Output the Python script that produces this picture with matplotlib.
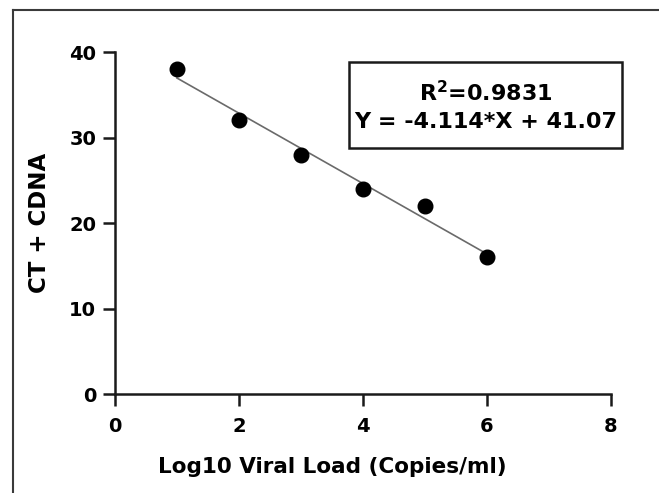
import matplotlib
matplotlib.use("Agg")
import matplotlib.pyplot as plt
from matplotlib.lines import Line2D
from matplotlib.patches import Rectangle

plt.rcParams['font.family'] = ['DejaVu Sans']
plt.rcParams['font.weight'] = 'bold'

log_load = [1, 2, 3, 4, 5, 6]
ct_values = [38, 32, 28, 24, 22, 16]
slope = -4.114
intercept = 41.07
r2 = 0.9831
x_ticks = [0, 2, 4, 6, 8]
y_ticks = [0, 10, 20, 30, 40]

fig = plt.figure(figsize=(6.59, 4.93), dpi=100)
ax = fig.add_axes([0.1745, 0.2008, 0.7525, 0.6937])

fit_x = [min(log_load), max(log_load)]
fit_y = [slope * x + intercept for x in fit_x]
ax.plot(fit_x, fit_y, color='#6a6a6a', linewidth=1.2, zorder=2)
ax.plot(log_load, ct_values, 'o', color='black', markersize=10.5, zorder=3, clip_on=False)

ax.set_xlim(0, 8)
ax.set_ylim(0, 40)
ax.set_xticks(x_ticks)
ax.set_yticks(y_ticks)
for s in ['top', 'right']:
    ax.spines[s].set_visible(False)
for s in ['left', 'bottom']:
    ax.spines[s].set_linewidth(1.8)
    ax.spines[s].set_color('#1a1a1a')
ax.tick_params(width=1.8, length=8.5, labelsize=14, pad=8, color='#1a1a1a')
ax.tick_params(axis='y', pad=5)
for lab in ax.get_xticklabels() + ax.get_yticklabels():
    lab.set_fontweight('bold')
ax.set_xlabel("Log10 Viral Load (Copies/ml)", fontsize=15.5, fontweight='bold')
ax.set_ylabel("CT + CDNA", fontsize=16.5, fontweight='bold')
ax.xaxis.set_label_coords(0.4375, -0.185)
ax.yaxis.set_label_coords(-0.13, 0.5)

# equation box
ax.add_patch(Rectangle((0.4718, 0.719), 0.5504, 0.252, transform=ax.transAxes,
                       facecolor='white', edgecolor='#1a1a1a', linewidth=1.8,
                       clip_on=False, zorder=4))
ax.text(0.747, 0.843, "R$^\\mathbf{2}$=%.4f\nY = %.3f*X + %.2f" % (r2, slope, intercept),
        transform=ax.transAxes, ha='center', va='center', fontsize=16,
        fontweight='bold', linespacing=1.45, zorder=5)

# outer frame (top and left edges of the cropped panel)
fig.add_artist(Line2D([13 / 659, 13 / 659], [0, 1 - 10 / 493], transform=fig.transFigure,
                      color='#3a3a3a', linewidth=1.5))
fig.add_artist(Line2D([13 / 659, 1], [1 - 10 / 493, 1 - 10 / 493], transform=fig.transFigure,
                      color='#3a3a3a', linewidth=1.5))

fig.savefig("out.png", dpi=100)
